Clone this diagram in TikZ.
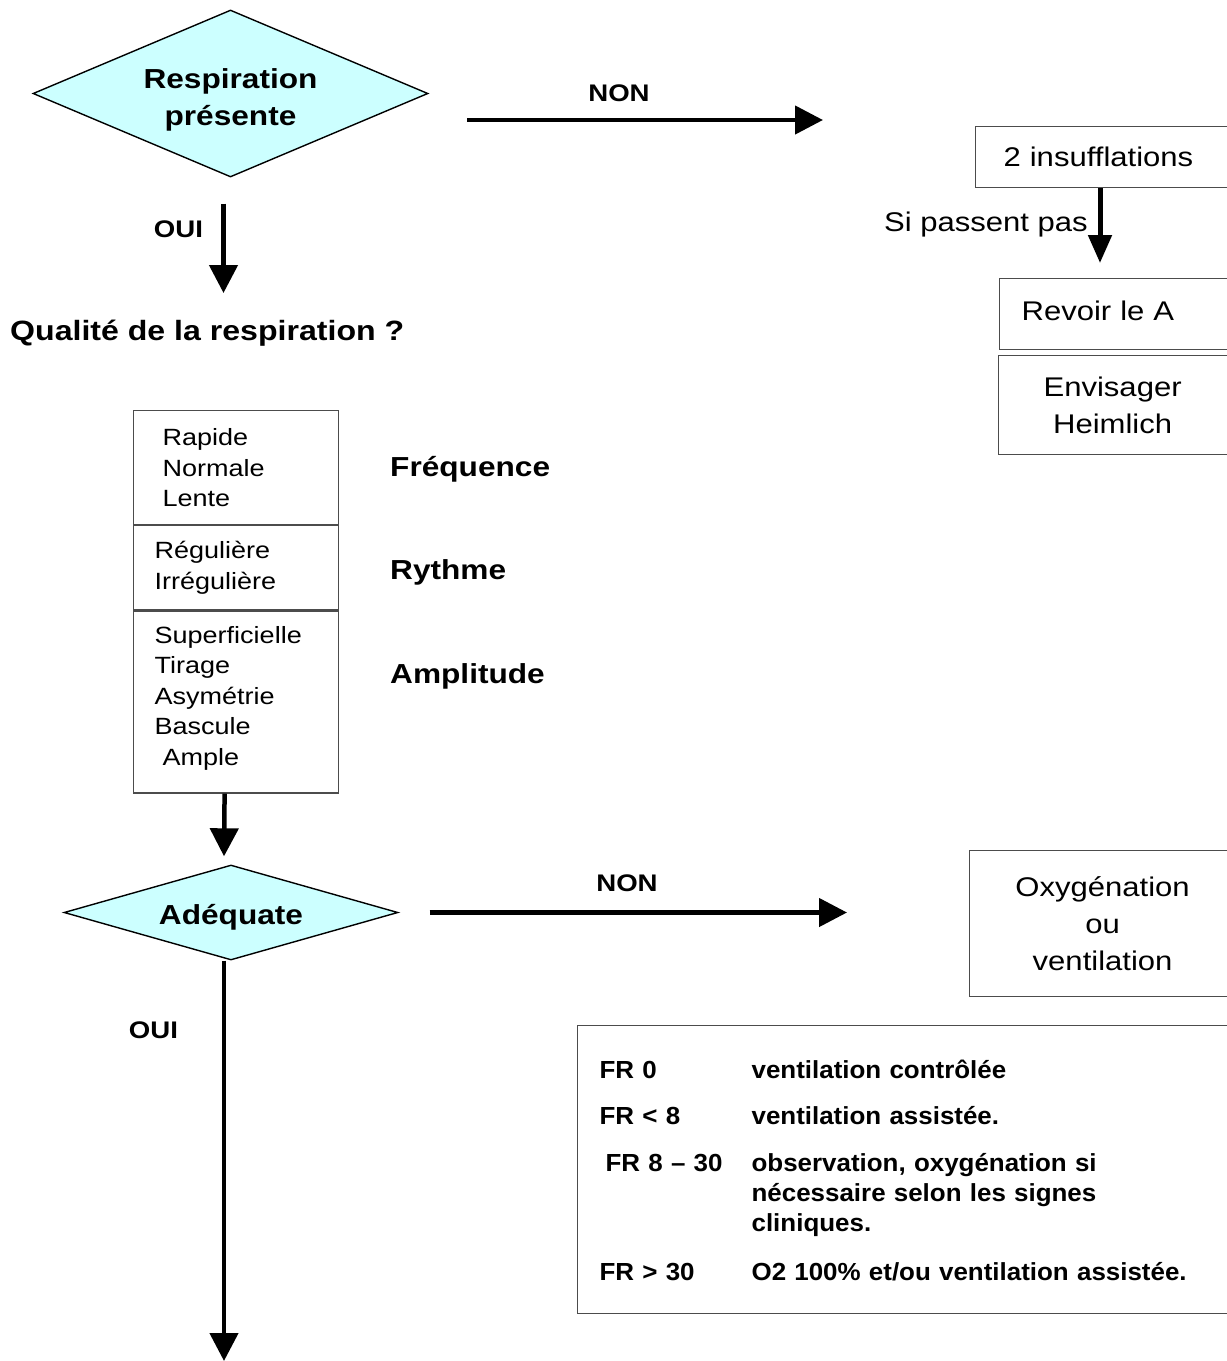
\documentclass[tikz,border=0pt]{standalone}
\usepackage{fontspec}
\setmainfont{Liberation Sans}
\newfontfamily\widesans[FakeStretch=1.15]{Liberation Sans}
\newfontfamily\tablesans[FakeStretch=1.05]{Liberation Sans}
\usetikzlibrary{shapes.geometric,arrows.meta}
\definecolor{paleaqua}{HTML}{CCFFFF}
\definecolor{boxline}{gray}{0.3}

\begin{document}
\begin{tikzpicture}[x=1pt,y=-1pt,
  headfont/.style={font=\widesans\bfseries\fontsize{27.5}{37}\selectfont},
  tagfont/.style={font=\widesans\bfseries\fontsize{24}{28}\selectfont},
  bodyfont/.style={font=\widesans\fontsize{27}{37}\selectfont},
  listfont/.style={font=\widesans\fontsize{23.5}{30.5}\selectfont},
  tablefont/.style={font=\tablesans\bfseries\fontsize{24.7}{30}\selectfont},
  decision/.style={diamond, draw=black, line width=1.4pt, fill=paleaqua,
    inner sep=0pt, align=center, headfont},
  panel/.style={draw=boxline, line width=1.2pt, anchor=north west,
    inner sep=0pt, align=left},
  section/.style={panel, listfont, inner ysep=0pt},
  flow/.style={line width=4.5pt, -{Triangle[width=28pt,length=28pt]}},
  thinflow/.style={line width=5pt, -{Triangle[width=23pt,length=28pt]}}]

\useasboundingbox (0,0) rectangle (1227,1361);
\clip (0,0) rectangle (1227,1361);

% first decision
\node[decision, minimum width=395pt, minimum height=167pt, aspect=2.365]
  (resp) at (230.5,93.5) {\rule{0pt}{32pt}Respiration\\présente};
\node[tagfont, anchor=base] (non1) at (619,101) {NON};
\node[tagfont, anchor=base] (oui1) at (178.5,237) {OUI};
\node[headfont, anchor=base west, inner sep=0pt] (qual) at (10,340)
  {\fontsize{27.9}{37}\selectfont Qualité de la respiration ?};

% right branch: airway
\node[panel, bodyfont, text width=265pt, minimum height=61pt] (ins) at (975,126)
  {\noindent\hspace*{28pt}2 insufflations};
\node[bodyfont, anchor=base east, inner sep=0pt] (sipas) at (1088,231.5)
  {Si passent pas};
\node[panel, bodyfont, text width=241pt, minimum height=71pt] (rev) at (999,278)
  {\noindent\hspace*{22pt}Revoir le A\rule[-6pt]{0pt}{6pt}};
\node[panel, bodyfont, text width=242pt, minimum height=99pt] (heim) at (998,355)
  {\noindent\makebox[228pt]{Envisager}\\\makebox[228pt]{Heimlich}};

% quality criteria
\node[section, inner xsep=29pt, text width=147pt, minimum height=114pt]
  (f1) at (133,410) {\noindent Rapide\\Normale\\Lente};
\node[section, inner xsep=21pt, text width=163pt, minimum height=84pt]
  (f2) at (f1.south west) {\noindent Régulière\\Irrégulière};
\node[section, inner xsep=21pt, text width=163pt, minimum height=182pt]
  (f3) at (f2.south west)
  {\noindent Superficielle\\Tirage\\Asymétrie\\Bascule\\\hspace*{8pt}Ample\rule[-13pt]{0pt}{13pt}};
\node[headfont, anchor=base west, inner sep=0pt] (freq) at (390,476) {Fréquence};
\node[headfont, anchor=base west, inner sep=0pt] (ryth) at (390,579.5) {Rythme};
\node[headfont, anchor=base west, inner sep=0pt] (ampl) at (390,683.3) {Amplitude};

% second decision
\node[decision, minimum width=334pt, minimum height=95pt, aspect=3.5]
  (adeq) at (231,912.5) {\rule{0pt}{30pt}Adéquate};
\node[tagfont, anchor=base] (non2) at (627,891.5) {NON};
\node[tagfont, anchor=base] (oui2) at (153.5,1038.3) {OUI};
\node[panel, bodyfont, text width=271pt, minimum height=146pt] (oxy) at (969,850)
  {\noindent\makebox[266pt]{Oxygénation}\\\makebox[266pt]{ou}\\\makebox[266pt]{ventilation}};

% respiratory rate table
\node[panel, tablefont, text width=663pt, minimum height=288pt] (rates) at (577,1025)
  {\noindent\hspace*{22pt}%
   \begin{tabular}{@{}p{152pt}@{}p{480pt}@{}}
   \rule{0pt}{29pt}FR 0 & ventilation contrôlée \\[16pt]
   FR < 8 & ventilation assistée. \\[16.7pt]
   \hspace*{6pt}FR 8 – 30 & observation, oxygénation si\newline
     nécessaire selon les signes\newline cliniques. \\[19.3pt]
   FR > 30 & O2 100\% et/ou ventilation assistée.
   \end{tabular}};

% connector ends
\coordinate (nonstart) at (467,120);
\coordinate (nonend) at (823,120);
\coordinate (qualin) at (223.5,293);
\coordinate (bottomend) at (224,1361);

% connectors
\draw[flow] (nonstart) -- (nonend);
\draw[flow] ([shift={(-7,26)}]resp.south) -- (qualin);
\draw[thinflow] ([xshift=125pt]ins.south west) -- ([shift={(101,-15)}]rev.north west);
\draw[flow] ([xshift=-11.5pt]f3.south) -- ([shift={(-7,-8)}]adeq.north);
\draw[flow, shorten >=122pt] ([xshift=31pt]adeq.east) -- (adeq.east -| oxy.west);
\draw[flow] ([xshift=-7pt]adeq.south) -- (bottomend);
\end{tikzpicture}
\end{document}
